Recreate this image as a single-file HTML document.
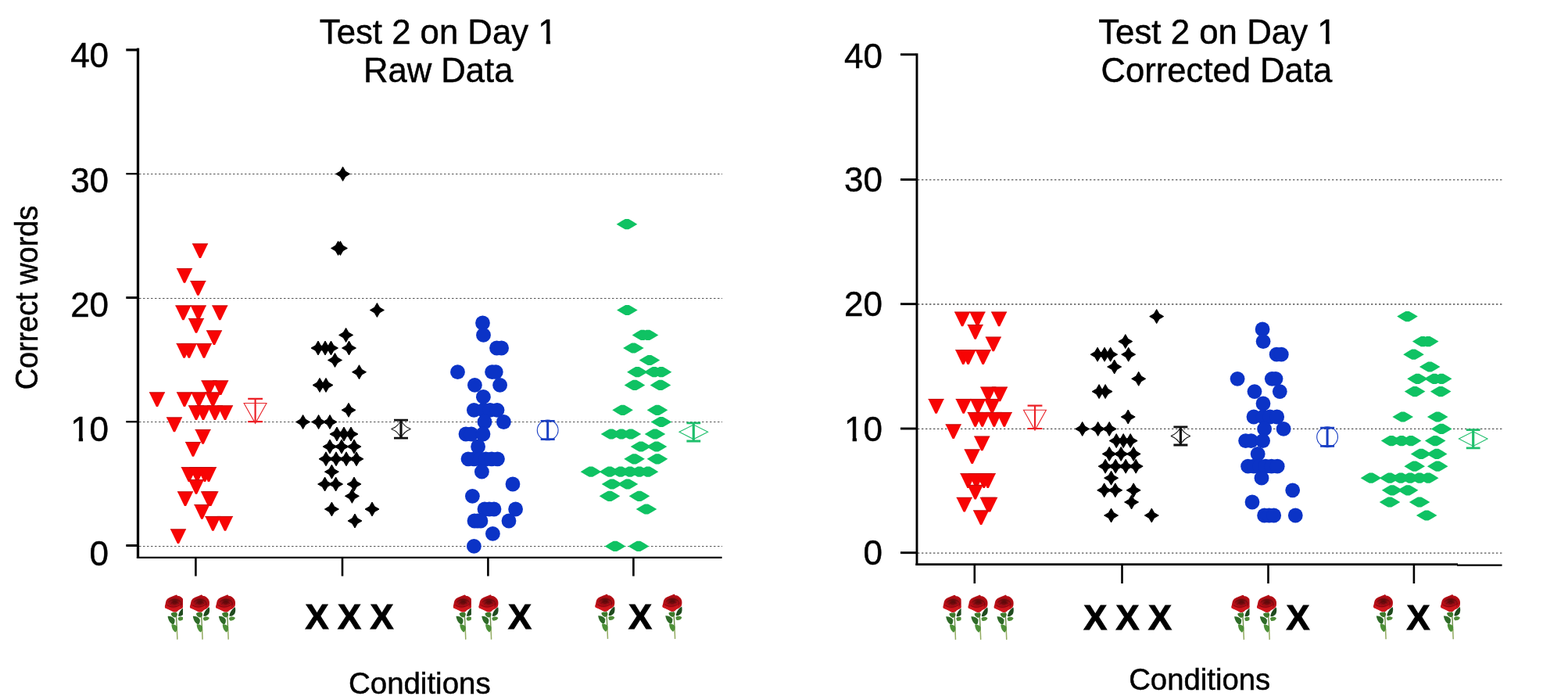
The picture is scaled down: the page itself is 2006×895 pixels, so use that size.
<!DOCTYPE html>
<html lang="en">
<head>
<meta charset="utf-8">
<title>Test 2 on Day 1 - Raw Data and Corrected Data</title>
<style>
html,body{margin:0;padding:0;background:#fff;}
body{width:2006px;height:895px;overflow:hidden;}
svg{display:block;}
text{font-family:"Liberation Sans",sans-serif;fill:#000;stroke:#000;stroke-width:0.5px;}
.tl{font-size:44px;}
.ti{font-size:44.5px;}
.al{font-size:38px;}
.xx{font-size:45px;font-weight:bold;stroke:#000;stroke-width:1px;}
.dot{stroke:#555;stroke-width:1;stroke-dasharray:2.5 2.5;fill:none;}
.dot2{stroke:#555;stroke-width:1.3;stroke-dasharray:2.4 2.6;fill:none;}
</style>
</head>
<body>
<svg width="2006" height="895" viewBox="0 0 2006 895">
<defs>
<clipPath id="rc"><use href="#rh"/></clipPath>
<filter id="rb" x="-20%" y="-20%" width="140%" height="140%"><feGaussianBlur stdDeviation="0.8"/></filter>
<symbol id="rose" viewBox="0 0 26 58" overflow="visible">
<path d="M14.4,22C15,30 15.5,40 15.7,46" stroke="#6c8f48" stroke-width="1.4" fill="none"/>
<path d="M15.7,45C15.9,50 16.1,54 16.2,57.3" stroke="#93ab62" stroke-width="1.5" fill="none"/>
<path d="M17.4,27.4C17.6,24 19.5,19.5 24.8,16C25.6,19 25.2,22.5 24.2,24.5C22.5,27 19.5,28 17.4,27.4Z" fill="#1f4a1e"/>
<path d="M17,30C18.5,28 22,27.4 25,29.8C24,32.4 21,33.8 18.4,33.3C17.5,32.6 17,31.2 17,30Z" fill="#4f8d38"/>
<path d="M16,24C14,22.4 10,22.4 8,24.2C8.4,26.5 10,28.6 12.6,29.3C14.6,29.2 16,27.4 16.2,25.5Z" fill="#3e7a2c"/>
<path d="M3.9,27.6C7,27.2 11,28.6 12.8,31.6C13.3,34 12.8,36.6 11,38C7.5,37.2 4.6,33 3.9,27.6Z" fill="#2f6b28"/>
<path d="M8.8,38C11,37.4 14.6,38.6 16,41C16.5,43.6 15.8,46.6 13.6,48.1C10.6,46.4 8.6,42 8.8,38Z" fill="#4d9038"/>
<path id="rh" d="M15,0C13.5,1 10,2 8,3C6,3.8 4.5,4.5 3.5,5.5C2.3,6.8 1.8,8 1.5,9C1.2,10.2 1,11.5 0.8,12.5C0.5,13.8 0,14.6 0,15.6C0.2,16.6 0.8,17.2 1.5,17.5C2.8,18.2 4,18.5 5,19C6.5,19.8 7.8,20.5 9,21C10.2,21.6 11.5,22.3 12.7,22.3C14,22.3 15.2,22 16,21.5C16.8,20.8 17.2,20 18,19.5C19,18.9 20,18.6 21,18C22.2,17.3 23.3,16.5 24,15.5C24.7,14.3 25,13 25,11.7C25.1,10.2 25,8.8 24.5,7.5C24,6.3 23.4,5.3 22.5,4.5C21.5,3.5 20.3,2.6 19,2C18,1.6 17.2,1.8 16.5,1.5C16,1 15.6,0.3 15,0Z" fill="#b50f17"/>
<g clip-path="url(#rc)"><g filter="url(#rb)">
<path d="M0,13C3,15.5 8,17 12,16.5C15,16 18,14 20,13C22,14 24,14.5 25.5,13.5L25,19L13,23L0,18Z" fill="#cc141c"/>
<ellipse cx="12.6" cy="9.2" rx="7" ry="4.8" fill="#860b12"/>
<ellipse cx="13" cy="8.6" rx="3.6" ry="2.4" fill="#5a070c"/>
<path d="M18,5C21,6.5 23.5,9.5 23.5,13C21.5,11.5 19.5,9.5 18,5Z" fill="#9a0c13"/>
<path d="M1,14C4,18 10,19.5 15,18C12,20.5 6,20 1.5,17Z" fill="#de1b23"/>
</g>
<g fill="none" stroke="#5c060b" stroke-width="0.8" opacity="0.75" stroke-linecap="round">
<path d="M5,9.5C8,5.5 15,4.8 19.5,8"/>
<path d="M7.5,12C10,8.8 15,8.6 17.5,11.2"/>
<path d="M3.5,13.5C8,17 15.5,16.6 21,12.2"/>
<path d="M10,10.6C11.4,12.4 14,12.4 15.4,10.6"/>
<path d="M19.5,8C21.5,10 22,13 20.5,15.5"/>
</g></g>
</symbol>
</defs>
<rect width="2006" height="895" fill="#fff"/>
<g id="left-panel">
<path d="M178,222.5H924" class="dot"/>
<path d="M178,381.5H924" class="dot"/>
<path d="M178,539.5H924" class="dot"/>
<path d="M178,698.5H924" class="dot"/>
<path d="M245.9,311.5h20.2L257.1,330.1h-2.2z" fill="#f70404"/><path d="M245.9,311.8h20.2" stroke="#b31212" stroke-width="0.8" fill="none"/>
<path d="M225.9,343.1h20.2L237.1,361.7h-2.2z" fill="#f70404"/><path d="M225.9,343.4h20.2" stroke="#b31212" stroke-width="0.8" fill="none"/>
<path d="M243.3,359.1h20.2L254.5,377.7h-2.2z" fill="#f70404"/><path d="M243.3,359.4h20.2" stroke="#b31212" stroke-width="0.8" fill="none"/>
<path d="M224.3,390.6h20.2L235.5,409.2h-2.2z" fill="#f70404"/><path d="M224.3,390.9h20.2" stroke="#b31212" stroke-width="0.8" fill="none"/>
<path d="M243.7,390.6h20.2L254.9,409.2h-2.2z" fill="#f70404"/><path d="M243.7,390.9h20.2" stroke="#b31212" stroke-width="0.8" fill="none"/>
<path d="M271.2,390.6h20.2L282.4,409.2h-2.2z" fill="#f70404"/><path d="M271.2,390.9h20.2" stroke="#b31212" stroke-width="0.8" fill="none"/>
<path d="M240.9,407.1h20.2L252.1,425.7h-2.2z" fill="#f70404"/><path d="M240.9,407.4h20.2" stroke="#b31212" stroke-width="0.8" fill="none"/>
<path d="M263.9,422.5h20.2L275.1,441.1h-2.2z" fill="#f70404"/><path d="M263.9,422.8h20.2" stroke="#b31212" stroke-width="0.8" fill="none"/>
<path d="M225.5,439.1h20.2L236.7,457.7h-2.2z" fill="#f70404"/><path d="M225.5,439.4h20.2" stroke="#b31212" stroke-width="0.8" fill="none"/>
<path d="M231.8,439.1h20.2L243.0,457.7h-2.2z" fill="#f70404"/><path d="M231.8,439.4h20.2" stroke="#b31212" stroke-width="0.8" fill="none"/>
<path d="M250.9,439.1h20.2L262.1,457.7h-2.2z" fill="#f70404"/><path d="M250.9,439.4h20.2" stroke="#b31212" stroke-width="0.8" fill="none"/>
<path d="M257.4,486.5h20.2L268.6,505.1h-2.2z" fill="#f70404"/><path d="M257.4,486.8h20.2" stroke="#b31212" stroke-width="0.8" fill="none"/>
<path d="M272.1,486.5h20.2L283.3,505.1h-2.2z" fill="#f70404"/><path d="M272.1,486.8h20.2" stroke="#b31212" stroke-width="0.8" fill="none"/>
<path d="M190.9,501.5h20.2L202.1,520.1h-2.2z" fill="#f70404"/><path d="M190.9,501.8h20.2" stroke="#b31212" stroke-width="0.8" fill="none"/>
<path d="M225.9,501.5h20.2L237.1,520.1h-2.2z" fill="#f70404"/><path d="M225.9,501.8h20.2" stroke="#b31212" stroke-width="0.8" fill="none"/>
<path d="M244.3,501.5h20.2L255.5,520.1h-2.2z" fill="#f70404"/><path d="M244.3,501.8h20.2" stroke="#b31212" stroke-width="0.8" fill="none"/>
<path d="M262.3,501.5h20.2L273.5,520.1h-2.2z" fill="#f70404"/><path d="M262.3,501.8h20.2" stroke="#b31212" stroke-width="0.8" fill="none"/>
<path d="M240.9,518.4h20.2L252.1,537.0h-2.2z" fill="#f70404"/><path d="M240.9,518.7h20.2" stroke="#b31212" stroke-width="0.8" fill="none"/>
<path d="M249.9,518.4h20.2L261.1,537.0h-2.2z" fill="#f70404"/><path d="M249.9,518.7h20.2" stroke="#b31212" stroke-width="0.8" fill="none"/>
<path d="M264.9,518.4h20.2L276.1,537.0h-2.2z" fill="#f70404"/><path d="M264.9,518.7h20.2" stroke="#b31212" stroke-width="0.8" fill="none"/>
<path d="M277.9,518.4h20.2L289.1,537.0h-2.2z" fill="#f70404"/><path d="M277.9,518.7h20.2" stroke="#b31212" stroke-width="0.8" fill="none"/>
<path d="M212.9,533.6h20.2L224.1,552.2h-2.2z" fill="#f70404"/><path d="M212.9,533.9h20.2" stroke="#b31212" stroke-width="0.8" fill="none"/>
<path d="M249.5,549.1h20.2L260.7,567.7h-2.2z" fill="#f70404"/><path d="M249.5,549.4h20.2" stroke="#b31212" stroke-width="0.8" fill="none"/>
<path d="M236.9,565.1h20.2L248.1,583.7h-2.2z" fill="#f70404"/><path d="M236.9,565.4h20.2" stroke="#b31212" stroke-width="0.8" fill="none"/>
<path d="M231.7,597.3h20.2L242.9,615.9h-2.2z" fill="#f70404"/><path d="M231.7,597.6h20.2" stroke="#b31212" stroke-width="0.8" fill="none"/>
<path d="M242.2,597.3h20.2L253.4,615.9h-2.2z" fill="#f70404"/><path d="M242.2,597.6h20.2" stroke="#b31212" stroke-width="0.8" fill="none"/>
<path d="M251.9,597.3h20.2L263.1,615.9h-2.2z" fill="#f70404"/><path d="M251.9,597.6h20.2" stroke="#b31212" stroke-width="0.8" fill="none"/>
<path d="M256.9,597.3h20.2L268.1,615.9h-2.2z" fill="#f70404"/><path d="M256.9,597.6h20.2" stroke="#b31212" stroke-width="0.8" fill="none"/>
<path d="M240.9,613.1h20.2L252.1,631.7h-2.2z" fill="#f70404"/><path d="M240.9,613.4h20.2" stroke="#b31212" stroke-width="0.8" fill="none"/>
<path d="M226.9,628.4h20.2L238.1,647.0h-2.2z" fill="#f70404"/><path d="M226.9,628.7h20.2" stroke="#b31212" stroke-width="0.8" fill="none"/>
<path d="M257.0,628.4h20.2L268.2,647.0h-2.2z" fill="#f70404"/><path d="M257.0,628.7h20.2" stroke="#b31212" stroke-width="0.8" fill="none"/>
<path d="M259.2,628.4h20.2L270.4,647.0h-2.2z" fill="#f70404"/><path d="M259.2,628.7h20.2" stroke="#b31212" stroke-width="0.8" fill="none"/>
<path d="M248.3,645.1h20.2L259.5,663.7h-2.2z" fill="#f70404"/><path d="M248.3,645.4h20.2" stroke="#b31212" stroke-width="0.8" fill="none"/>
<path d="M262.3,660.1h20.2L273.5,678.7h-2.2z" fill="#f70404"/><path d="M262.3,660.4h20.2" stroke="#b31212" stroke-width="0.8" fill="none"/>
<path d="M277.9,660.1h20.2L289.1,678.7h-2.2z" fill="#f70404"/><path d="M277.9,660.4h20.2" stroke="#b31212" stroke-width="0.8" fill="none"/>
<path d="M217.9,676.5h20.2L229.1,695.1h-2.2z" fill="#f70404"/><path d="M217.9,676.8h20.2" stroke="#b31212" stroke-width="0.8" fill="none"/>
<path d="M438.6,213.4L441.9,219.1L447.6,222.4L441.9,225.7L438.6,231.4L435.3,225.7L429.6,222.4L435.3,219.1z" fill="#000000" stroke="#000000" stroke-width="1" stroke-linejoin="round"/>
<path d="M432.6,308.4L435.9,314.1L441.6,317.4L435.9,320.7L432.6,326.4L429.3,320.7L423.6,317.4L429.3,314.1z" fill="#000000" stroke="#000000" stroke-width="1" stroke-linejoin="round"/>
<path d="M435.4,308.4L438.7,314.1L444.4,317.4L438.7,320.7L435.4,326.4L432.1,320.7L426.4,317.4L432.1,314.1z" fill="#000000" stroke="#000000" stroke-width="1" stroke-linejoin="round"/>
<path d="M482.4,387.5L485.7,393.2L491.4,396.5L485.7,399.8L482.4,405.5L479.1,399.8L473.4,396.5L479.1,393.2z" fill="#000000" stroke="#000000" stroke-width="1" stroke-linejoin="round"/>
<path d="M442.6,419.4L445.9,425.1L451.6,428.4L445.9,431.7L442.6,437.4L439.3,431.7L433.6,428.4L439.3,425.1z" fill="#000000" stroke="#000000" stroke-width="1" stroke-linejoin="round"/>
<path d="M407.0,436.0L410.3,441.7L416.0,445.0L410.3,448.3L407.0,454.0L403.7,448.3L398.0,445.0L403.7,441.7z" fill="#000000" stroke="#000000" stroke-width="1" stroke-linejoin="round"/>
<path d="M416.0,436.0L419.3,441.7L425.0,445.0L419.3,448.3L416.0,454.0L412.7,448.3L407.0,445.0L412.7,441.7z" fill="#000000" stroke="#000000" stroke-width="1" stroke-linejoin="round"/>
<path d="M423.5,436.0L426.8,441.7L432.5,445.0L426.8,448.3L423.5,454.0L420.2,448.3L414.5,445.0L420.2,441.7z" fill="#000000" stroke="#000000" stroke-width="1" stroke-linejoin="round"/>
<path d="M446.5,436.0L449.8,441.7L455.5,445.0L449.8,448.3L446.5,454.0L443.2,448.3L437.5,445.0L443.2,441.7z" fill="#000000" stroke="#000000" stroke-width="1" stroke-linejoin="round"/>
<path d="M428.5,451.5L431.8,457.2L437.5,460.5L431.8,463.8L428.5,469.5L425.2,463.8L419.5,460.5L425.2,457.2z" fill="#000000" stroke="#000000" stroke-width="1" stroke-linejoin="round"/>
<path d="M459.5,466.7L462.8,472.4L468.5,475.7L462.8,479.0L459.5,484.7L456.2,479.0L450.5,475.7L456.2,472.4z" fill="#000000" stroke="#000000" stroke-width="1" stroke-linejoin="round"/>
<path d="M409.0,483.4L412.3,489.1L418.0,492.4L412.3,495.7L409.0,501.4L405.7,495.7L400.0,492.4L405.7,489.1z" fill="#000000" stroke="#000000" stroke-width="1" stroke-linejoin="round"/>
<path d="M417.0,483.4L420.3,489.1L426.0,492.4L420.3,495.7L417.0,501.4L413.7,495.7L408.0,492.4L413.7,489.1z" fill="#000000" stroke="#000000" stroke-width="1" stroke-linejoin="round"/>
<path d="M446.0,515.3L449.3,521.0L455.0,524.3L449.3,527.6L446.0,533.3L442.7,527.6L437.0,524.3L442.7,521.0z" fill="#000000" stroke="#000000" stroke-width="1" stroke-linejoin="round"/>
<path d="M387.6,530.5L390.9,536.2L396.6,539.5L390.9,542.8L387.6,548.5L384.3,542.8L378.6,539.5L384.3,536.2z" fill="#000000" stroke="#000000" stroke-width="1" stroke-linejoin="round"/>
<path d="M407.6,530.5L410.9,536.2L416.6,539.5L410.9,542.8L407.6,548.5L404.3,542.8L398.6,539.5L404.3,536.2z" fill="#000000" stroke="#000000" stroke-width="1" stroke-linejoin="round"/>
<path d="M422.0,530.5L425.3,536.2L431.0,539.5L425.3,542.8L422.0,548.5L418.7,542.8L413.0,539.5L418.7,536.2z" fill="#000000" stroke="#000000" stroke-width="1" stroke-linejoin="round"/>
<path d="M431.0,546.0L434.3,551.7L440.0,555.0L434.3,558.3L431.0,564.0L427.7,558.3L422.0,555.0L427.7,551.7z" fill="#000000" stroke="#000000" stroke-width="1" stroke-linejoin="round"/>
<path d="M440.0,546.0L443.3,551.7L449.0,555.0L443.3,558.3L440.0,564.0L436.7,558.3L431.0,555.0L436.7,551.7z" fill="#000000" stroke="#000000" stroke-width="1" stroke-linejoin="round"/>
<path d="M449.0,546.0L452.3,551.7L458.0,555.0L452.3,558.3L449.0,564.0L445.7,558.3L440.0,555.0L445.7,551.7z" fill="#000000" stroke="#000000" stroke-width="1" stroke-linejoin="round"/>
<path d="M422.0,562.0L425.3,567.7L431.0,571.0L425.3,574.3L422.0,580.0L418.7,574.3L413.0,571.0L418.7,567.7z" fill="#000000" stroke="#000000" stroke-width="1" stroke-linejoin="round"/>
<path d="M437.0,562.0L440.3,567.7L446.0,571.0L440.3,574.3L437.0,580.0L433.7,574.3L428.0,571.0L433.7,567.7z" fill="#000000" stroke="#000000" stroke-width="1" stroke-linejoin="round"/>
<path d="M453.0,562.0L456.3,567.7L462.0,571.0L456.3,574.3L453.0,580.0L449.7,574.3L444.0,571.0L449.7,567.7z" fill="#000000" stroke="#000000" stroke-width="1" stroke-linejoin="round"/>
<path d="M417.0,577.8L420.3,583.5L426.0,586.8L420.3,590.1L417.0,595.8L413.7,590.1L408.0,586.8L413.7,583.5z" fill="#000000" stroke="#000000" stroke-width="1" stroke-linejoin="round"/>
<path d="M430.0,577.8L433.3,583.5L439.0,586.8L433.3,590.1L430.0,595.8L426.7,590.1L421.0,586.8L426.7,583.5z" fill="#000000" stroke="#000000" stroke-width="1" stroke-linejoin="round"/>
<path d="M443.0,577.8L446.3,583.5L452.0,586.8L446.3,590.1L443.0,595.8L439.7,590.1L434.0,586.8L439.7,583.5z" fill="#000000" stroke="#000000" stroke-width="1" stroke-linejoin="round"/>
<path d="M456.0,577.8L459.3,583.5L465.0,586.8L459.3,590.1L456.0,595.8L452.7,590.1L447.0,586.8L452.7,583.5z" fill="#000000" stroke="#000000" stroke-width="1" stroke-linejoin="round"/>
<path d="M424.4,594.2L427.7,599.9L433.4,603.2L427.7,606.5L424.4,612.2L421.1,606.5L415.4,603.2L421.1,599.9z" fill="#000000" stroke="#000000" stroke-width="1" stroke-linejoin="round"/>
<path d="M415.6,610.0L418.9,615.7L424.6,619.0L418.9,622.3L415.6,628.0L412.3,622.3L406.6,619.0L412.3,615.7z" fill="#000000" stroke="#000000" stroke-width="1" stroke-linejoin="round"/>
<path d="M429.6,610.0L432.9,615.7L438.6,619.0L432.9,622.3L429.6,628.0L426.3,622.3L420.6,619.0L426.3,615.7z" fill="#000000" stroke="#000000" stroke-width="1" stroke-linejoin="round"/>
<path d="M453.0,610.0L456.3,615.7L462.0,619.0L456.3,622.3L453.0,628.0L449.7,622.3L444.0,619.0L449.7,615.7z" fill="#000000" stroke="#000000" stroke-width="1" stroke-linejoin="round"/>
<path d="M450.4,625.3L453.7,631.0L459.4,634.3L453.7,637.6L450.4,643.3L447.1,637.6L441.4,634.3L447.1,631.0z" fill="#000000" stroke="#000000" stroke-width="1" stroke-linejoin="round"/>
<path d="M424.4,642.0L427.7,647.7L433.4,651.0L427.7,654.3L424.4,660.0L421.1,654.3L415.4,651.0L421.1,647.7z" fill="#000000" stroke="#000000" stroke-width="1" stroke-linejoin="round"/>
<path d="M476.0,642.0L479.3,647.7L485.0,651.0L479.3,654.3L476.0,660.0L472.7,654.3L467.0,651.0L472.7,647.7z" fill="#000000" stroke="#000000" stroke-width="1" stroke-linejoin="round"/>
<path d="M454.0,657.0L457.3,662.7L463.0,666.0L457.3,669.3L454.0,675.0L450.7,669.3L445.0,666.0L450.7,662.7z" fill="#000000" stroke="#000000" stroke-width="1" stroke-linejoin="round"/>
<circle cx="617.5" cy="413.0" r="9.4" fill="#0b33c6"/>
<circle cx="618.5" cy="428.4" r="9.4" fill="#0b33c6"/>
<circle cx="635.5" cy="445.0" r="9.4" fill="#0b33c6"/>
<circle cx="641.6" cy="445.0" r="9.4" fill="#0b33c6"/>
<circle cx="585.5" cy="475.7" r="9.4" fill="#0b33c6"/>
<circle cx="629.6" cy="475.7" r="9.4" fill="#0b33c6"/>
<circle cx="634.3" cy="475.7" r="9.4" fill="#0b33c6"/>
<circle cx="607.4" cy="492.4" r="9.4" fill="#0b33c6"/>
<circle cx="639.6" cy="492.4" r="9.4" fill="#0b33c6"/>
<circle cx="618.4" cy="507.4" r="9.4" fill="#0b33c6"/>
<circle cx="606.4" cy="524.3" r="9.4" fill="#0b33c6"/>
<circle cx="618.4" cy="524.3" r="9.4" fill="#0b33c6"/>
<circle cx="627.0" cy="524.3" r="9.4" fill="#0b33c6"/>
<circle cx="636.0" cy="524.3" r="9.4" fill="#0b33c6"/>
<circle cx="620.0" cy="539.5" r="9.4" fill="#0b33c6"/>
<circle cx="644.4" cy="539.5" r="9.4" fill="#0b33c6"/>
<circle cx="596.0" cy="555.0" r="9.4" fill="#0b33c6"/>
<circle cx="603.0" cy="555.0" r="9.4" fill="#0b33c6"/>
<circle cx="618.0" cy="555.0" r="9.4" fill="#0b33c6"/>
<circle cx="611.6" cy="571.0" r="9.4" fill="#0b33c6"/>
<circle cx="599.0" cy="586.8" r="9.4" fill="#0b33c6"/>
<circle cx="606.5" cy="586.8" r="9.4" fill="#0b33c6"/>
<circle cx="614.0" cy="586.8" r="9.4" fill="#0b33c6"/>
<circle cx="621.5" cy="586.8" r="9.4" fill="#0b33c6"/>
<circle cx="629.0" cy="586.8" r="9.4" fill="#0b33c6"/>
<circle cx="636.5" cy="586.8" r="9.4" fill="#0b33c6"/>
<circle cx="616.4" cy="603.2" r="9.4" fill="#0b33c6"/>
<circle cx="656.0" cy="619.0" r="9.4" fill="#0b33c6"/>
<circle cx="604.4" cy="634.3" r="9.4" fill="#0b33c6"/>
<circle cx="620.0" cy="651.0" r="9.4" fill="#0b33c6"/>
<circle cx="626.0" cy="651.0" r="9.4" fill="#0b33c6"/>
<circle cx="632.0" cy="651.0" r="9.4" fill="#0b33c6"/>
<circle cx="659.6" cy="651.0" r="9.4" fill="#0b33c6"/>
<circle cx="607.0" cy="666.0" r="9.4" fill="#0b33c6"/>
<circle cx="611.0" cy="666.0" r="9.4" fill="#0b33c6"/>
<circle cx="615.0" cy="666.0" r="9.4" fill="#0b33c6"/>
<circle cx="651.0" cy="666.0" r="9.4" fill="#0b33c6"/>
<circle cx="630.4" cy="682.4" r="9.4" fill="#0b33c6"/>
<circle cx="606.4" cy="698.4" r="9.4" fill="#0b33c6"/>
<path d="M788.7,286.7L795.4,282.6L799.8,280.1L804.2,280.1L808.6,282.6L815.3,286.7L808.6,290.8L804.2,293.3L799.8,293.3L795.4,290.8z" fill="#0fc263"/>
<path d="M789.1,396.5L795.8,392.4L800.2,389.9L804.6,389.9L809.0,392.4L815.7,396.5L809.0,400.6L804.6,403.1L800.2,403.1L795.8,400.6z" fill="#0fc263"/>
<path d="M808.7,428.4L815.4,424.3L819.8,421.8L824.2,421.8L828.6,424.3L835.3,428.4L828.6,432.5L824.2,435.0L819.8,435.0L815.4,432.5z" fill="#0fc263"/>
<path d="M815.7,428.4L822.4,424.3L826.8,421.8L831.2,421.8L835.6,424.3L842.3,428.4L835.6,432.5L831.2,435.0L826.8,435.0L822.4,432.5z" fill="#0fc263"/>
<path d="M797.1,445.0L803.8,440.9L808.2,438.4L812.6,438.4L817.0,440.9L823.7,445.0L817.0,449.1L812.6,451.6L808.2,451.6L803.8,449.1z" fill="#0fc263"/>
<path d="M817.7,460.5L824.4,456.4L828.8,453.9L833.2,453.9L837.6,456.4L844.3,460.5L837.6,464.6L833.2,467.1L828.8,467.1L824.4,464.6z" fill="#0fc263"/>
<path d="M802.1,475.7L808.8,471.6L813.2,469.1L817.6,469.1L822.0,471.6L828.7,475.7L822.0,479.8L817.6,482.3L813.2,482.3L808.8,479.8z" fill="#0fc263"/>
<path d="M823.7,475.7L830.4,471.6L834.8,469.1L839.2,469.1L843.6,471.6L850.3,475.7L843.6,479.8L839.2,482.3L834.8,482.3L830.4,479.8z" fill="#0fc263"/>
<path d="M832.7,475.7L839.4,471.6L843.8,469.1L848.2,469.1L852.6,471.6L859.3,475.7L852.6,479.8L848.2,482.3L843.8,482.3L839.4,479.8z" fill="#0fc263"/>
<path d="M798.7,492.4L805.4,488.3L809.8,485.8L814.2,485.8L818.6,488.3L825.3,492.4L818.6,496.5L814.2,499.0L809.8,499.0L805.4,496.5z" fill="#0fc263"/>
<path d="M831.7,492.4L838.4,488.3L842.8,485.8L847.2,485.8L851.6,488.3L858.3,492.4L851.6,496.5L847.2,499.0L842.8,499.0L838.4,496.5z" fill="#0fc263"/>
<path d="M783.3,524.3L790.0,520.2L794.4,517.7L798.8,517.7L803.2,520.2L809.9,524.3L803.2,528.4L798.8,530.9L794.4,530.9L790.0,528.4z" fill="#0fc263"/>
<path d="M827.7,524.3L834.4,520.2L838.8,517.7L843.2,517.7L847.6,520.2L854.3,524.3L847.6,528.4L843.2,530.9L838.8,530.9L834.4,528.4z" fill="#0fc263"/>
<path d="M832.7,539.5L839.4,535.4L843.8,532.9L848.2,532.9L852.6,535.4L859.3,539.5L852.6,543.6L848.2,546.1L843.8,546.1L839.4,543.6z" fill="#0fc263"/>
<path d="M768.7,555.0L775.4,550.9L779.8,548.4L784.2,548.4L788.6,550.9L795.3,555.0L788.6,559.1L784.2,561.6L779.8,561.6L775.4,559.1z" fill="#0fc263"/>
<path d="M781.7,555.0L788.4,550.9L792.8,548.4L797.2,548.4L801.6,550.9L808.3,555.0L801.6,559.1L797.2,561.6L792.8,561.6L788.4,559.1z" fill="#0fc263"/>
<path d="M793.7,555.0L800.4,550.9L804.8,548.4L809.2,548.4L813.6,550.9L820.3,555.0L813.6,559.1L809.2,561.6L804.8,561.6L800.4,559.1z" fill="#0fc263"/>
<path d="M824.7,555.0L831.4,550.9L835.8,548.4L840.2,548.4L844.6,550.9L851.3,555.0L844.6,559.1L840.2,561.6L835.8,561.6L831.4,559.1z" fill="#0fc263"/>
<path d="M806.7,571.0L813.4,566.9L817.8,564.4L822.2,564.4L826.6,566.9L833.3,571.0L826.6,575.1L822.2,577.6L817.8,577.6L813.4,575.1z" fill="#0fc263"/>
<path d="M826.7,571.0L833.4,566.9L837.8,564.4L842.2,564.4L846.6,566.9L853.3,571.0L846.6,575.1L842.2,577.6L837.8,577.6L833.4,575.1z" fill="#0fc263"/>
<path d="M798.3,586.8L805.0,582.7L809.4,580.2L813.8,580.2L818.2,582.7L824.9,586.8L818.2,590.9L813.8,593.4L809.4,593.4L805.0,590.9z" fill="#0fc263"/>
<path d="M827.7,586.8L834.4,582.7L838.8,580.2L843.2,580.2L847.6,582.7L854.3,586.8L847.6,590.9L843.2,593.4L838.8,593.4L834.4,590.9z" fill="#0fc263"/>
<path d="M742.7,603.2L749.4,599.1L753.8,596.6L758.2,596.6L762.6,599.1L769.3,603.2L762.6,607.3L758.2,609.8L753.8,609.8L749.4,607.3z" fill="#0fc263"/>
<path d="M766.7,603.2L773.4,599.1L777.8,596.6L782.2,596.6L786.6,599.1L793.3,603.2L786.6,607.3L782.2,609.8L777.8,609.8L773.4,607.3z" fill="#0fc263"/>
<path d="M780.7,603.2L787.4,599.1L791.8,596.6L796.2,596.6L800.6,599.1L807.3,603.2L800.6,607.3L796.2,609.8L791.8,609.8L787.4,607.3z" fill="#0fc263"/>
<path d="M792.7,603.2L799.4,599.1L803.8,596.6L808.2,596.6L812.6,599.1L819.3,603.2L812.6,607.3L808.2,609.8L803.8,609.8L799.4,607.3z" fill="#0fc263"/>
<path d="M804.7,603.2L811.4,599.1L815.8,596.6L820.2,596.6L824.6,599.1L831.3,603.2L824.6,607.3L820.2,609.8L815.8,609.8L811.4,607.3z" fill="#0fc263"/>
<path d="M815.7,603.2L822.4,599.1L826.8,596.6L831.2,596.6L835.6,599.1L842.3,603.2L835.6,607.3L831.2,609.8L826.8,609.8L822.4,607.3z" fill="#0fc263"/>
<path d="M769.7,619.0L776.4,614.9L780.8,612.4L785.2,612.4L789.6,614.9L796.3,619.0L789.6,623.1L785.2,625.6L780.8,625.6L776.4,623.1z" fill="#0fc263"/>
<path d="M789.7,619.0L796.4,614.9L800.8,612.4L805.2,612.4L809.6,614.9L816.3,619.0L809.6,623.1L805.2,625.6L800.8,625.6L796.4,623.1z" fill="#0fc263"/>
<path d="M766.7,634.3L773.4,630.2L777.8,627.7L782.2,627.7L786.6,630.2L793.3,634.3L786.6,638.4L782.2,640.9L777.8,640.9L773.4,638.4z" fill="#0fc263"/>
<path d="M804.7,634.3L811.4,630.2L815.8,627.7L820.2,627.7L824.6,630.2L831.3,634.3L824.6,638.4L820.2,640.9L815.8,640.9L811.4,638.4z" fill="#0fc263"/>
<path d="M813.7,651.0L820.4,646.9L824.8,644.4L829.2,644.4L833.6,646.9L840.3,651.0L833.6,655.1L829.2,657.6L824.8,657.6L820.4,655.1z" fill="#0fc263"/>
<path d="M773.7,698.4L780.4,694.3L784.8,691.8L789.2,691.8L793.6,694.3L800.3,698.4L793.6,702.5L789.2,705.0L784.8,705.0L780.4,702.5z" fill="#0fc263"/>
<path d="M803.7,698.4L810.4,694.3L814.8,691.8L819.2,691.8L823.6,694.3L830.3,698.4L823.6,702.5L819.2,705.0L814.8,705.0L810.4,702.5z" fill="#0fc263"/>
<path d="M312.1,515.5L341.0,515.5L326.6,541.3z" fill="none" stroke="#e8262c" stroke-width="1.1"/>
<path d="M326.6,509.8V539.2" stroke="#ec2026" stroke-width="2.2" fill="none"/><path d="M317.2,509.8h18.8M317.2,539.2h18.8" stroke="#ec2026" stroke-width="2.2" fill="none"/>
<path d="M500.6,548.6Q509.6,545.2 513.0,537.1Q516.4,545.2 525.4,548.6Q516.4,552.0 513.0,560.1Q509.6,552.0 500.6,548.6z" fill="none" stroke="#111" stroke-width="1.1" stroke-linejoin="bevel"/>
<path d="M513.0,537.1V560.2" stroke="#111" stroke-width="3.2" fill="none"/><path d="M504.0,537.1h18.0M504.0,560.2h18.0" stroke="#111" stroke-width="2.8" fill="none"/>
<ellipse cx="700.7" cy="549.9" rx="13.4" ry="12.9" fill="none" stroke="#1a3fc4" stroke-width="1.1"/>
<path d="M700.7,538.3V561.6" stroke="#1a3fc4" stroke-width="3" fill="none"/><path d="M691.7,538.3h18.0M691.7,561.6h18.0" stroke="#1a3fc4" stroke-width="2.6" fill="none"/>
<path d="M869.0,552.3L887.3,543.0L905.6,552.3L887.3,561.6z" fill="none" stroke="#1fbf6c" stroke-width="1.1"/>
<path d="M887.3,540.9V564.0" stroke="#1fbf6c" stroke-width="3.2" fill="none"/><path d="M878.4,540.9h17.8M878.4,564.0h17.8" stroke="#1fbf6c" stroke-width="2.8" fill="none"/>
<path d="M176.5,61.6V713.8" stroke="#000" stroke-width="3.3" fill="none"/>
<path d="M174.9,712.8H923.6" stroke="#000" stroke-width="2.2" fill="none"/>
<path d="M161.3,63.8H176" stroke="#000" stroke-width="3.2" fill="none"/>
<path d="M161.3,222.2H176" stroke="#000" stroke-width="2.3" fill="none"/>
<path d="M161.3,380.6H176" stroke="#000" stroke-width="3.0" fill="none"/>
<path d="M161.3,539.2H176" stroke="#000" stroke-width="2.4" fill="none"/>
<path d="M161.3,697.5H176" stroke="#000" stroke-width="3.0" fill="none"/>
<path d="M250.4,713V736.6" stroke="#000" stroke-width="2.6" fill="none"/>
<path d="M438,713V736.6" stroke="#000" stroke-width="2.6" fill="none"/>
<path d="M624.4,713V736.6" stroke="#000" stroke-width="2.6" fill="none"/>
<path d="M810.4,713V736.6" stroke="#000" stroke-width="2.6" fill="none"/>
<text x="139.1" y="86.2" class="tl" text-anchor="end">40</text>
<text x="139.1" y="245.6" class="tl" text-anchor="end">30</text>
<text x="139.1" y="405.4" class="tl" text-anchor="end">20</text>
<text x="139.1" y="563.6" class="tl" text-anchor="end">10</text>
<text x="139.1" y="723.4" class="tl" text-anchor="end">0</text>
<text x="560.7" y="56" class="ti" text-anchor="middle" textLength="303.7" lengthAdjust="spacingAndGlyphs">Test 2 on Day 1</text>
<text x="560.7" y="105" class="ti" text-anchor="middle" textLength="191.6" lengthAdjust="spacingAndGlyphs">Raw Data</text>
<text transform="translate(48.4,498.3) rotate(-90) scale(1,1.06)" class="al" textLength="235.5" lengthAdjust="spacingAndGlyphs">Correct words</text>
<text x="446.0" y="887" class="al" textLength="181.6" lengthAdjust="spacingAndGlyphs">Conditions</text>
<svg x="210.7" y="760.3" width="23.3" height="58" viewBox="0 0 23.3 58"><use href="#rose" x="0" y="0" width="26" height="58"/></svg>
<use href="#rose" x="242.9" y="760.3" width="26" height="58"/>
<use href="#rose" x="276.0" y="760.3" width="26" height="58"/>
<text x="390.6" y="804.2" class="xx" textLength="112.8" lengthAdjust="spacing">X X X</text>
<svg x="579.6" y="760.3" width="23.3" height="58" viewBox="0 0 23.3 58"><use href="#rose" x="0" y="0" width="26" height="58"/></svg>
<use href="#rose" x="612.4" y="760.3" width="26" height="58"/>
<text x="650.0" y="804.2" class="xx">X</text>
<use href="#rose" x="761.3" y="759.6" width="26" height="58"/>
<text x="804.0" y="804.2" class="xx">X</text>
<use href="#rose" x="847.4" y="759.6" width="26" height="58"/>
<rect x="91.2" y="559.4" width="9.5" height="5.6" fill="#fff"/><rect x="106.1" y="559.4" width="8" height="5.6" fill="#fff"/>
<rect x="689.2" y="51.4" width="9.5" height="5.6" fill="#fff"/><rect x="704.1" y="51.4" width="8" height="5.6" fill="#fff"/>
</g>
<g id="right-panel">
<path d="M1174,229.9H1921.6" class="dot2"/>
<path d="M1174,389.0H1921.6" class="dot2"/>
<path d="M1174,548.4H1921.6" class="dot2"/>
<path d="M1174,707.2H1921.6" class="dot2"/>
<path d="M1221.0,398.7h20.2L1232.2,417.3h-2.2z" fill="#f70404"/><path d="M1221.0,399.0h20.2" stroke="#b31212" stroke-width="0.8" fill="none"/>
<path d="M1240.4,398.7h20.2L1251.6,417.3h-2.2z" fill="#f70404"/><path d="M1240.4,399.0h20.2" stroke="#b31212" stroke-width="0.8" fill="none"/>
<path d="M1268.0,398.7h20.2L1279.2,417.3h-2.2z" fill="#f70404"/><path d="M1268.0,399.0h20.2" stroke="#b31212" stroke-width="0.8" fill="none"/>
<path d="M1237.6,415.1h20.2L1248.8,433.7h-2.2z" fill="#f70404"/><path d="M1237.6,415.4h20.2" stroke="#b31212" stroke-width="0.8" fill="none"/>
<path d="M1260.7,430.7h20.2L1271.9,449.3h-2.2z" fill="#f70404"/><path d="M1260.7,431.0h20.2" stroke="#b31212" stroke-width="0.8" fill="none"/>
<path d="M1222.2,447.3h20.2L1233.4,465.9h-2.2z" fill="#f70404"/><path d="M1222.2,447.6h20.2" stroke="#b31212" stroke-width="0.8" fill="none"/>
<path d="M1228.5,447.3h20.2L1239.7,465.9h-2.2z" fill="#f70404"/><path d="M1228.5,447.6h20.2" stroke="#b31212" stroke-width="0.8" fill="none"/>
<path d="M1247.7,447.3h20.2L1258.8,465.9h-2.2z" fill="#f70404"/><path d="M1247.7,447.6h20.2" stroke="#b31212" stroke-width="0.8" fill="none"/>
<path d="M1254.2,494.7h20.2L1265.4,513.3h-2.2z" fill="#f70404"/><path d="M1254.2,495.0h20.2" stroke="#b31212" stroke-width="0.8" fill="none"/>
<path d="M1268.9,494.7h20.2L1280.1,513.3h-2.2z" fill="#f70404"/><path d="M1268.9,495.0h20.2" stroke="#b31212" stroke-width="0.8" fill="none"/>
<path d="M1187.5,510.1h20.2L1198.7,528.7h-2.2z" fill="#f70404"/><path d="M1187.5,510.4h20.2" stroke="#b31212" stroke-width="0.8" fill="none"/>
<path d="M1222.6,510.1h20.2L1233.8,528.7h-2.2z" fill="#f70404"/><path d="M1222.6,510.4h20.2" stroke="#b31212" stroke-width="0.8" fill="none"/>
<path d="M1241.0,510.1h20.2L1252.2,528.7h-2.2z" fill="#f70404"/><path d="M1241.0,510.4h20.2" stroke="#b31212" stroke-width="0.8" fill="none"/>
<path d="M1259.1,510.1h20.2L1270.3,528.7h-2.2z" fill="#f70404"/><path d="M1259.1,510.4h20.2" stroke="#b31212" stroke-width="0.8" fill="none"/>
<path d="M1237.6,527.1h20.2L1248.8,545.7h-2.2z" fill="#f70404"/><path d="M1237.6,527.4h20.2" stroke="#b31212" stroke-width="0.8" fill="none"/>
<path d="M1246.6,527.1h20.2L1257.8,545.7h-2.2z" fill="#f70404"/><path d="M1246.6,527.4h20.2" stroke="#b31212" stroke-width="0.8" fill="none"/>
<path d="M1261.7,527.1h20.2L1272.9,545.7h-2.2z" fill="#f70404"/><path d="M1261.7,527.4h20.2" stroke="#b31212" stroke-width="0.8" fill="none"/>
<path d="M1274.7,527.1h20.2L1285.9,545.7h-2.2z" fill="#f70404"/><path d="M1274.7,527.4h20.2" stroke="#b31212" stroke-width="0.8" fill="none"/>
<path d="M1209.6,542.5h20.2L1220.8,561.1h-2.2z" fill="#f70404"/><path d="M1209.6,542.8h20.2" stroke="#b31212" stroke-width="0.8" fill="none"/>
<path d="M1246.2,557.7h20.2L1257.4,576.3h-2.2z" fill="#f70404"/><path d="M1246.2,558.0h20.2" stroke="#b31212" stroke-width="0.8" fill="none"/>
<path d="M1233.6,574.5h20.2L1244.8,593.1h-2.2z" fill="#f70404"/><path d="M1233.6,574.8h20.2" stroke="#b31212" stroke-width="0.8" fill="none"/>
<path d="M1228.4,605.3h20.2L1239.6,623.9h-2.2z" fill="#f70404"/><path d="M1228.4,605.6h20.2" stroke="#b31212" stroke-width="0.8" fill="none"/>
<path d="M1238.9,605.3h20.2L1250.1,623.9h-2.2z" fill="#f70404"/><path d="M1238.9,605.6h20.2" stroke="#b31212" stroke-width="0.8" fill="none"/>
<path d="M1248.7,605.3h20.2L1259.9,623.9h-2.2z" fill="#f70404"/><path d="M1248.7,605.6h20.2" stroke="#b31212" stroke-width="0.8" fill="none"/>
<path d="M1253.7,605.3h20.2L1264.9,623.9h-2.2z" fill="#f70404"/><path d="M1253.7,605.6h20.2" stroke="#b31212" stroke-width="0.8" fill="none"/>
<path d="M1237.6,619.9h20.2L1248.8,638.5h-2.2z" fill="#f70404"/><path d="M1237.6,620.2h20.2" stroke="#b31212" stroke-width="0.8" fill="none"/>
<path d="M1223.6,635.9h20.2L1234.8,654.5h-2.2z" fill="#f70404"/><path d="M1223.6,636.2h20.2" stroke="#b31212" stroke-width="0.8" fill="none"/>
<path d="M1253.8,635.9h20.2L1265.0,654.5h-2.2z" fill="#f70404"/><path d="M1253.8,636.2h20.2" stroke="#b31212" stroke-width="0.8" fill="none"/>
<path d="M1256.0,635.9h20.2L1267.2,654.5h-2.2z" fill="#f70404"/><path d="M1256.0,636.2h20.2" stroke="#b31212" stroke-width="0.8" fill="none"/>
<path d="M1245.0,652.5h20.2L1256.2,671.1h-2.2z" fill="#f70404"/><path d="M1245.0,652.8h20.2" stroke="#b31212" stroke-width="0.8" fill="none"/>
<path d="M1479.7,395.6L1483.0,401.3L1488.7,404.6L1483.0,407.9L1479.7,413.6L1476.4,407.9L1470.7,404.6L1476.4,401.3z" fill="#000000" stroke="#000000" stroke-width="1" stroke-linejoin="round"/>
<path d="M1439.8,427.6L1443.1,433.3L1448.8,436.6L1443.1,439.9L1439.8,445.6L1436.5,439.9L1430.8,436.6L1436.5,433.3z" fill="#000000" stroke="#000000" stroke-width="1" stroke-linejoin="round"/>
<path d="M1404.1,444.2L1407.4,449.9L1413.1,453.2L1407.4,456.5L1404.1,462.2L1400.8,456.5L1395.1,453.2L1400.8,449.9z" fill="#000000" stroke="#000000" stroke-width="1" stroke-linejoin="round"/>
<path d="M1413.1,444.2L1416.4,449.9L1422.1,453.2L1416.4,456.5L1413.1,462.2L1409.8,456.5L1404.1,453.2L1409.8,449.9z" fill="#000000" stroke="#000000" stroke-width="1" stroke-linejoin="round"/>
<path d="M1420.7,444.2L1424.0,449.9L1429.7,453.2L1424.0,456.5L1420.7,462.2L1417.4,456.5L1411.7,453.2L1417.4,449.9z" fill="#000000" stroke="#000000" stroke-width="1" stroke-linejoin="round"/>
<path d="M1443.7,444.2L1447.0,449.9L1452.7,453.2L1447.0,456.5L1443.7,462.2L1440.4,456.5L1434.7,453.2L1440.4,449.9z" fill="#000000" stroke="#000000" stroke-width="1" stroke-linejoin="round"/>
<path d="M1425.7,460.0L1429.0,465.7L1434.7,469.0L1429.0,472.3L1425.7,478.0L1422.4,472.3L1416.7,469.0L1422.4,465.7z" fill="#000000" stroke="#000000" stroke-width="1" stroke-linejoin="round"/>
<path d="M1456.7,475.3L1460.0,481.0L1465.7,484.3L1460.0,487.6L1456.7,493.3L1453.4,487.6L1447.7,484.3L1453.4,481.0z" fill="#000000" stroke="#000000" stroke-width="1" stroke-linejoin="round"/>
<path d="M1406.1,491.6L1409.4,497.3L1415.1,500.6L1409.4,503.9L1406.1,509.6L1402.8,503.9L1397.1,500.6L1402.8,497.3z" fill="#000000" stroke="#000000" stroke-width="1" stroke-linejoin="round"/>
<path d="M1414.1,491.6L1417.4,497.3L1423.1,500.6L1417.4,503.9L1414.1,509.6L1410.8,503.9L1405.1,500.6L1410.8,497.3z" fill="#000000" stroke="#000000" stroke-width="1" stroke-linejoin="round"/>
<path d="M1443.2,524.0L1446.5,529.7L1452.2,533.0L1446.5,536.3L1443.2,542.0L1439.9,536.3L1434.2,533.0L1439.9,529.7z" fill="#000000" stroke="#000000" stroke-width="1" stroke-linejoin="round"/>
<path d="M1384.7,539.4L1388.0,545.1L1393.7,548.4L1388.0,551.7L1384.7,557.4L1381.4,551.7L1375.7,548.4L1381.4,545.1z" fill="#000000" stroke="#000000" stroke-width="1" stroke-linejoin="round"/>
<path d="M1404.7,539.4L1408.0,545.1L1413.7,548.4L1408.0,551.7L1404.7,557.4L1401.4,551.7L1395.7,548.4L1401.4,545.1z" fill="#000000" stroke="#000000" stroke-width="1" stroke-linejoin="round"/>
<path d="M1419.2,539.4L1422.5,545.1L1428.2,548.4L1422.5,551.7L1419.2,557.4L1415.9,551.7L1410.2,548.4L1415.9,545.1z" fill="#000000" stroke="#000000" stroke-width="1" stroke-linejoin="round"/>
<path d="M1428.2,554.6L1431.5,560.3L1437.2,563.6L1431.5,566.9L1428.2,572.6L1424.9,566.9L1419.2,563.6L1424.9,560.3z" fill="#000000" stroke="#000000" stroke-width="1" stroke-linejoin="round"/>
<path d="M1437.2,554.6L1440.5,560.3L1446.2,563.6L1440.5,566.9L1437.2,572.6L1433.9,566.9L1428.2,563.6L1433.9,560.3z" fill="#000000" stroke="#000000" stroke-width="1" stroke-linejoin="round"/>
<path d="M1446.2,554.6L1449.5,560.3L1455.2,563.6L1449.5,566.9L1446.2,572.6L1442.9,566.9L1437.2,563.6L1442.9,560.3z" fill="#000000" stroke="#000000" stroke-width="1" stroke-linejoin="round"/>
<path d="M1419.2,571.4L1422.5,577.1L1428.2,580.4L1422.5,583.7L1419.2,589.4L1415.9,583.7L1410.2,580.4L1415.9,577.1z" fill="#000000" stroke="#000000" stroke-width="1" stroke-linejoin="round"/>
<path d="M1434.2,571.4L1437.5,577.1L1443.2,580.4L1437.5,583.7L1434.2,589.4L1430.9,583.7L1425.2,580.4L1430.9,577.1z" fill="#000000" stroke="#000000" stroke-width="1" stroke-linejoin="round"/>
<path d="M1450.2,571.4L1453.5,577.1L1459.2,580.4L1453.5,583.7L1450.2,589.4L1446.9,583.7L1441.2,580.4L1446.9,577.1z" fill="#000000" stroke="#000000" stroke-width="1" stroke-linejoin="round"/>
<path d="M1414.1,587.2L1417.4,592.9L1423.1,596.2L1417.4,599.5L1414.1,605.2L1410.8,599.5L1405.1,596.2L1410.8,592.9z" fill="#000000" stroke="#000000" stroke-width="1" stroke-linejoin="round"/>
<path d="M1427.2,587.2L1430.5,592.9L1436.2,596.2L1430.5,599.5L1427.2,605.2L1423.9,599.5L1418.2,596.2L1423.9,592.9z" fill="#000000" stroke="#000000" stroke-width="1" stroke-linejoin="round"/>
<path d="M1440.2,587.2L1443.5,592.9L1449.2,596.2L1443.5,599.5L1440.2,605.2L1436.9,599.5L1431.2,596.2L1436.9,592.9z" fill="#000000" stroke="#000000" stroke-width="1" stroke-linejoin="round"/>
<path d="M1453.2,587.2L1456.5,592.9L1462.2,596.2L1456.5,599.5L1453.2,605.2L1449.9,599.5L1444.2,596.2L1449.9,592.9z" fill="#000000" stroke="#000000" stroke-width="1" stroke-linejoin="round"/>
<path d="M1421.6,602.2L1424.9,607.9L1430.6,611.2L1424.9,614.5L1421.6,620.2L1418.3,614.5L1412.6,611.2L1418.3,607.9z" fill="#000000" stroke="#000000" stroke-width="1" stroke-linejoin="round"/>
<path d="M1412.7,617.8L1416.0,623.5L1421.7,626.8L1416.0,630.1L1412.7,635.8L1409.4,630.1L1403.7,626.8L1409.4,623.5z" fill="#000000" stroke="#000000" stroke-width="1" stroke-linejoin="round"/>
<path d="M1426.8,617.8L1430.1,623.5L1435.8,626.8L1430.1,630.1L1426.8,635.8L1423.5,630.1L1417.8,626.8L1423.5,623.5z" fill="#000000" stroke="#000000" stroke-width="1" stroke-linejoin="round"/>
<path d="M1450.2,617.8L1453.5,623.5L1459.2,626.8L1453.5,630.1L1450.2,635.8L1446.9,630.1L1441.2,626.8L1446.9,623.5z" fill="#000000" stroke="#000000" stroke-width="1" stroke-linejoin="round"/>
<path d="M1447.6,633.0L1450.9,638.7L1456.6,642.0L1450.9,645.3L1447.6,651.0L1444.3,645.3L1438.6,642.0L1444.3,638.7z" fill="#000000" stroke="#000000" stroke-width="1" stroke-linejoin="round"/>
<path d="M1421.6,650.0L1424.9,655.7L1430.6,659.0L1424.9,662.3L1421.6,668.0L1418.3,662.3L1412.6,659.0L1418.3,655.7z" fill="#000000" stroke="#000000" stroke-width="1" stroke-linejoin="round"/>
<path d="M1473.3,650.0L1476.6,655.7L1482.3,659.0L1476.6,662.3L1473.3,668.0L1470.0,662.3L1464.3,659.0L1470.0,655.7z" fill="#000000" stroke="#000000" stroke-width="1" stroke-linejoin="round"/>
<circle cx="1615.1" cy="421.0" r="9.4" fill="#0b33c6"/>
<circle cx="1616.1" cy="436.6" r="9.4" fill="#0b33c6"/>
<circle cx="1633.2" cy="453.2" r="9.4" fill="#0b33c6"/>
<circle cx="1639.3" cy="453.2" r="9.4" fill="#0b33c6"/>
<circle cx="1583.1" cy="484.3" r="9.4" fill="#0b33c6"/>
<circle cx="1627.3" cy="484.3" r="9.4" fill="#0b33c6"/>
<circle cx="1632.0" cy="484.3" r="9.4" fill="#0b33c6"/>
<circle cx="1605.0" cy="500.6" r="9.4" fill="#0b33c6"/>
<circle cx="1637.3" cy="500.6" r="9.4" fill="#0b33c6"/>
<circle cx="1616.0" cy="516.0" r="9.4" fill="#0b33c6"/>
<circle cx="1604.0" cy="533.0" r="9.4" fill="#0b33c6"/>
<circle cx="1616.0" cy="533.0" r="9.4" fill="#0b33c6"/>
<circle cx="1624.7" cy="533.0" r="9.4" fill="#0b33c6"/>
<circle cx="1633.7" cy="533.0" r="9.4" fill="#0b33c6"/>
<circle cx="1617.6" cy="548.4" r="9.4" fill="#0b33c6"/>
<circle cx="1642.1" cy="548.4" r="9.4" fill="#0b33c6"/>
<circle cx="1593.6" cy="563.6" r="9.4" fill="#0b33c6"/>
<circle cx="1600.6" cy="563.6" r="9.4" fill="#0b33c6"/>
<circle cx="1615.6" cy="563.6" r="9.4" fill="#0b33c6"/>
<circle cx="1609.2" cy="580.4" r="9.4" fill="#0b33c6"/>
<circle cx="1596.6" cy="596.2" r="9.4" fill="#0b33c6"/>
<circle cx="1604.1" cy="596.2" r="9.4" fill="#0b33c6"/>
<circle cx="1611.6" cy="596.2" r="9.4" fill="#0b33c6"/>
<circle cx="1619.2" cy="596.2" r="9.4" fill="#0b33c6"/>
<circle cx="1626.7" cy="596.2" r="9.4" fill="#0b33c6"/>
<circle cx="1634.2" cy="596.2" r="9.4" fill="#0b33c6"/>
<circle cx="1614.0" cy="611.2" r="9.4" fill="#0b33c6"/>
<circle cx="1653.7" cy="626.8" r="9.4" fill="#0b33c6"/>
<circle cx="1602.0" cy="642.0" r="9.4" fill="#0b33c6"/>
<circle cx="1617.6" cy="659.0" r="9.4" fill="#0b33c6"/>
<circle cx="1623.7" cy="659.0" r="9.4" fill="#0b33c6"/>
<circle cx="1629.7" cy="659.0" r="9.4" fill="#0b33c6"/>
<circle cx="1657.3" cy="659.0" r="9.4" fill="#0b33c6"/>
<path d="M1787.2,404.6L1793.9,400.5L1798.3,398.0L1802.7,398.0L1807.1,400.5L1813.8,404.6L1807.1,408.7L1802.7,411.2L1798.3,411.2L1793.9,408.7z" fill="#0fc263"/>
<path d="M1806.9,436.6L1813.6,432.5L1818.0,430.0L1822.4,430.0L1826.8,432.5L1833.5,436.6L1826.8,440.7L1822.4,443.2L1818.0,443.2L1813.6,440.7z" fill="#0fc263"/>
<path d="M1813.9,436.6L1820.6,432.5L1825.0,430.0L1829.4,430.0L1833.8,432.5L1840.5,436.6L1833.8,440.7L1829.4,443.2L1825.0,443.2L1820.6,440.7z" fill="#0fc263"/>
<path d="M1795.2,453.2L1801.9,449.1L1806.3,446.6L1810.7,446.6L1815.1,449.1L1821.8,453.2L1815.1,457.3L1810.7,459.8L1806.3,459.8L1801.9,457.3z" fill="#0fc263"/>
<path d="M1815.9,469.0L1822.6,464.9L1827.0,462.4L1831.4,462.4L1835.8,464.9L1842.5,469.0L1835.8,473.1L1831.4,475.6L1827.0,475.6L1822.6,473.1z" fill="#0fc263"/>
<path d="M1800.2,484.3L1806.9,480.2L1811.3,477.7L1815.7,477.7L1820.1,480.2L1826.8,484.3L1820.1,488.4L1815.7,490.9L1811.3,490.9L1806.9,488.4z" fill="#0fc263"/>
<path d="M1821.9,484.3L1828.6,480.2L1833.0,477.7L1837.4,477.7L1841.8,480.2L1848.5,484.3L1841.8,488.4L1837.4,490.9L1833.0,490.9L1828.6,488.4z" fill="#0fc263"/>
<path d="M1830.9,484.3L1837.6,480.2L1842.0,477.7L1846.4,477.7L1850.8,480.2L1857.5,484.3L1850.8,488.4L1846.4,490.9L1842.0,490.9L1837.6,488.4z" fill="#0fc263"/>
<path d="M1796.8,500.6L1803.5,496.5L1807.9,494.0L1812.3,494.0L1816.7,496.5L1823.4,500.6L1816.7,504.7L1812.3,507.2L1807.9,507.2L1803.5,504.7z" fill="#0fc263"/>
<path d="M1829.9,500.6L1836.6,496.5L1841.0,494.0L1845.4,494.0L1849.8,496.5L1856.5,500.6L1849.8,504.7L1845.4,507.2L1841.0,507.2L1836.6,504.7z" fill="#0fc263"/>
<path d="M1781.4,533.0L1788.1,528.9L1792.5,526.4L1796.9,526.4L1801.3,528.9L1808.0,533.0L1801.3,537.1L1796.9,539.6L1792.5,539.6L1788.1,537.1z" fill="#0fc263"/>
<path d="M1825.9,533.0L1832.6,528.9L1837.0,526.4L1841.4,526.4L1845.8,528.9L1852.5,533.0L1845.8,537.1L1841.4,539.6L1837.0,539.6L1832.6,537.1z" fill="#0fc263"/>
<path d="M1830.9,548.4L1837.6,544.3L1842.0,541.8L1846.4,541.8L1850.8,544.3L1857.5,548.4L1850.8,552.5L1846.4,555.0L1842.0,555.0L1837.6,552.5z" fill="#0fc263"/>
<path d="M1766.8,563.6L1773.5,559.5L1777.9,557.0L1782.3,557.0L1786.7,559.5L1793.4,563.6L1786.7,567.7L1782.3,570.2L1777.9,570.2L1773.5,567.7z" fill="#0fc263"/>
<path d="M1779.8,563.6L1786.5,559.5L1790.9,557.0L1795.3,557.0L1799.7,559.5L1806.4,563.6L1799.7,567.7L1795.3,570.2L1790.9,570.2L1786.5,567.7z" fill="#0fc263"/>
<path d="M1791.8,563.6L1798.5,559.5L1802.9,557.0L1807.3,557.0L1811.7,559.5L1818.4,563.6L1811.7,567.7L1807.3,570.2L1802.9,570.2L1798.5,567.7z" fill="#0fc263"/>
<path d="M1822.9,563.6L1829.6,559.5L1834.0,557.0L1838.4,557.0L1842.8,559.5L1849.5,563.6L1842.8,567.7L1838.4,570.2L1834.0,570.2L1829.6,567.7z" fill="#0fc263"/>
<path d="M1804.8,580.4L1811.5,576.3L1815.9,573.8L1820.3,573.8L1824.7,576.3L1831.4,580.4L1824.7,584.5L1820.3,587.0L1815.9,587.0L1811.5,584.5z" fill="#0fc263"/>
<path d="M1824.9,580.4L1831.6,576.3L1836.0,573.8L1840.4,573.8L1844.8,576.3L1851.5,580.4L1844.8,584.5L1840.4,587.0L1836.0,587.0L1831.6,584.5z" fill="#0fc263"/>
<path d="M1796.4,596.2L1803.1,592.1L1807.5,589.6L1811.9,589.6L1816.3,592.1L1823.0,596.2L1816.3,600.3L1811.9,602.8L1807.5,602.8L1803.1,600.3z" fill="#0fc263"/>
<path d="M1825.9,596.2L1832.6,592.1L1837.0,589.6L1841.4,589.6L1845.8,592.1L1852.5,596.2L1845.8,600.3L1841.4,602.8L1837.0,602.8L1832.6,600.3z" fill="#0fc263"/>
<path d="M1740.7,611.2L1747.4,607.1L1751.8,604.6L1756.2,604.6L1760.6,607.1L1767.3,611.2L1760.6,615.3L1756.2,617.8L1751.8,617.8L1747.4,615.3z" fill="#0fc263"/>
<path d="M1764.7,611.2L1771.4,607.1L1775.8,604.6L1780.2,604.6L1784.6,607.1L1791.3,611.2L1784.6,615.3L1780.2,617.8L1775.8,617.8L1771.4,615.3z" fill="#0fc263"/>
<path d="M1778.8,611.2L1785.5,607.1L1789.9,604.6L1794.3,604.6L1798.7,607.1L1805.4,611.2L1798.7,615.3L1794.3,617.8L1789.9,617.8L1785.5,615.3z" fill="#0fc263"/>
<path d="M1790.8,611.2L1797.5,607.1L1801.9,604.6L1806.3,604.6L1810.7,607.1L1817.4,611.2L1810.7,615.3L1806.3,617.8L1801.9,617.8L1797.5,615.3z" fill="#0fc263"/>
<path d="M1802.8,611.2L1809.5,607.1L1813.9,604.6L1818.3,604.6L1822.7,607.1L1829.4,611.2L1822.7,615.3L1818.3,617.8L1813.9,617.8L1809.5,615.3z" fill="#0fc263"/>
<path d="M1813.9,611.2L1820.6,607.1L1825.0,604.6L1829.4,604.6L1833.8,607.1L1840.5,611.2L1833.8,615.3L1829.4,617.8L1825.0,617.8L1820.6,615.3z" fill="#0fc263"/>
<path d="M1767.8,626.8L1774.5,622.7L1778.9,620.2L1783.3,620.2L1787.7,622.7L1794.4,626.8L1787.7,630.9L1783.3,633.4L1778.9,633.4L1774.5,630.9z" fill="#0fc263"/>
<path d="M1787.8,626.8L1794.5,622.7L1798.9,620.2L1803.3,620.2L1807.7,622.7L1814.4,626.8L1807.7,630.9L1803.3,633.4L1798.9,633.4L1794.5,630.9z" fill="#0fc263"/>
<path d="M1764.7,642.0L1771.4,637.9L1775.8,635.4L1780.2,635.4L1784.6,637.9L1791.3,642.0L1784.6,646.1L1780.2,648.6L1775.8,648.6L1771.4,646.1z" fill="#0fc263"/>
<path d="M1802.8,642.0L1809.5,637.9L1813.9,635.4L1818.3,635.4L1822.7,637.9L1829.4,642.0L1822.7,646.1L1818.3,648.6L1813.9,648.6L1809.5,646.1z" fill="#0fc263"/>
<path d="M1811.9,659.0L1818.6,654.9L1823.0,652.4L1827.4,652.4L1831.8,654.9L1838.5,659.0L1831.8,663.1L1827.4,665.6L1823.0,665.6L1818.6,663.1z" fill="#0fc263"/>
<path d="M1309.5,524.3L1338.4,524.3L1324.0,550.1z" fill="none" stroke="#e8262c" stroke-width="1.1"/>
<path d="M1324.0,518.6V548.0" stroke="#ec2026" stroke-width="2.2" fill="none"/><path d="M1314.6,518.6h18.8M1314.6,548.0h18.8" stroke="#ec2026" stroke-width="2.2" fill="none"/>
<path d="M1498.0,557.4Q1507.0,554.0 1510.4,545.9Q1513.8,554.0 1522.8,557.4Q1513.8,560.8 1510.4,568.9Q1507.0,560.8 1498.0,557.4z" fill="none" stroke="#111" stroke-width="1.1" stroke-linejoin="bevel"/>
<path d="M1510.4,545.9V569.0" stroke="#111" stroke-width="3.2" fill="none"/><path d="M1501.4,545.9h18.0M1501.4,569.0h18.0" stroke="#111" stroke-width="2.8" fill="none"/>
<ellipse cx="1698.1" cy="558.7" rx="13.4" ry="12.9" fill="none" stroke="#1a3fc4" stroke-width="1.1"/>
<path d="M1698.1,547.1V570.4" stroke="#1a3fc4" stroke-width="3" fill="none"/><path d="M1689.1,547.1h18.0M1689.1,570.4h18.0" stroke="#1a3fc4" stroke-width="2.6" fill="none"/>
<path d="M1866.4,561.1L1884.7,551.8L1903.0,561.1L1884.7,570.4z" fill="none" stroke="#1fbf6c" stroke-width="1.1"/>
<path d="M1884.7,549.7V572.8" stroke="#1fbf6c" stroke-width="3.2" fill="none"/><path d="M1875.8,549.7h17.8M1875.8,572.8h17.8" stroke="#1fbf6c" stroke-width="2.8" fill="none"/>
<path d="M1173,68.3V723" stroke="#000" stroke-width="2.9" fill="none"/>
<path d="M1171.4,721.6H1865" stroke="#000" stroke-width="2.8" fill="none"/>
<path d="M1864,722.7H1921.6" stroke="#000" stroke-width="2.2" fill="none"/>
<path d="M1152,69.7H1172" stroke="#000" stroke-width="2.9" fill="none"/>
<path d="M1152,229.6H1172" stroke="#000" stroke-width="2.9" fill="none"/>
<path d="M1152,388.7H1172" stroke="#000" stroke-width="2.9" fill="none"/>
<path d="M1152,548.0H1172" stroke="#000" stroke-width="2.9" fill="none"/>
<path d="M1152,706.7H1172" stroke="#000" stroke-width="2.9" fill="none"/>
<path d="M1246.8,721V746" stroke="#000" stroke-width="2.6" fill="none"/>
<path d="M1435.5,721V746" stroke="#000" stroke-width="2.6" fill="none"/>
<path d="M1622.5,721V746" stroke="#000" stroke-width="2.6" fill="none"/>
<path d="M1808.9,721V746" stroke="#000" stroke-width="2.6" fill="none"/>
<text x="1129.0" y="86.7" class="tl" text-anchor="end">40</text>
<text x="1129.0" y="244.7" class="tl" text-anchor="end">30</text>
<text x="1129.0" y="404.2" class="tl" text-anchor="end">20</text>
<text x="1129.0" y="563.5" class="tl" text-anchor="end">10</text>
<text x="1129.0" y="722.1" class="tl" text-anchor="end">0</text>
<text x="1557.4" y="56" class="ti" text-anchor="middle" textLength="304.5" lengthAdjust="spacingAndGlyphs">Test 2 on Day 1</text>
<text x="1556.4" y="105" class="ti" text-anchor="middle" textLength="295.6" lengthAdjust="spacingAndGlyphs">Corrected Data</text>
<text x="1444.2" y="881.6" class="al" textLength="181" lengthAdjust="spacingAndGlyphs">Conditions</text>
<svg x="1206.3" y="760.6" width="23.3" height="58" viewBox="0 0 23.3 58"><use href="#rose" x="0" y="0" width="26" height="58"/></svg>
<use href="#rose" x="1238.5" y="760.6" width="26" height="58"/>
<use href="#rose" x="1271.6" y="760.6" width="26" height="58"/>
<text x="1386.2" y="804.5" class="xx" textLength="112.8" lengthAdjust="spacing">X X X</text>
<svg x="1575.2" y="760.6" width="23.3" height="58" viewBox="0 0 23.3 58"><use href="#rose" x="0" y="0" width="26" height="58"/></svg>
<use href="#rose" x="1608.0" y="760.6" width="26" height="58"/>
<text x="1645.6" y="804.5" class="xx">X</text>
<use href="#rose" x="1756.9" y="759.9" width="26" height="58"/>
<text x="1799.6" y="804.5" class="xx">X</text>
<use href="#rose" x="1843.0" y="759.9" width="26" height="58"/>
<rect x="1081.1" y="559.3" width="9.5" height="5.7" fill="#fff"/><rect x="1096.0" y="559.3" width="8" height="5.7" fill="#fff"/>
<rect x="1686.2" y="51.4" width="9.5" height="5.6" fill="#fff"/><rect x="1701.1" y="51.4" width="8" height="5.6" fill="#fff"/>
</g>
</svg>
</body>
</html>
